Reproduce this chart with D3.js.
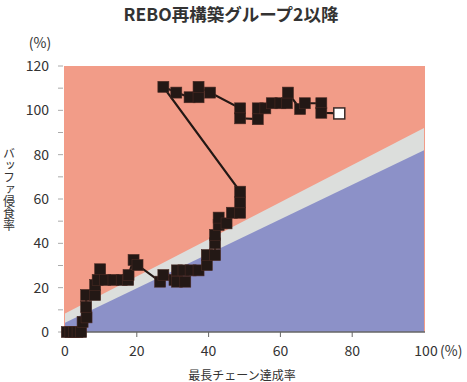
<!DOCTYPE html>
<html>
<head>
<meta charset="utf-8">
<script src="https://cdn.jsdelivr.net/npm/d3@7"></script>
<style>
  body { margin: 0; background: #fff; }
  text { font-family: "Noto Sans CJK JP", "Noto Sans", sans-serif; fill: #333; }
</style>
</head>
<body>
<div id="chart"></div>
<script>
var svgWidth = 467;
var svgHeight = 382;

// chain completion (%) vs buffer consumption (%)
var chainPct = [0.5, 1.5, 2.5, 3.5, 4.5, 4.9, 6.0, 5.9, 5.9, 8.4, 8.4, 9.1, 9.8, 11.2, 13.5, 15.8, 17.6, 17.7, 19.1, 20.2,
  26.5, 27.4, 30.5, 31.2, 33.5, 31.2, 33.0, 35.0, 37.2, 39.5, 39.5, 41.8, 41.8, 41.8, 42.8, 42.8, 45.0, 46.5, 48.8, 48.8, 48.8,
  27.4, 31.0, 34.7, 37.2, 37.2, 40.4, 48.8, 48.8, 53.7, 53.7, 55.8, 57.6, 60.0, 61.8, 62.1, 65.5, 66.8, 71.4, 71.4, 76.4];
var bufferPct = [0, 0, 0, 0, 0, 4.6, 6.6, 11.4, 16.7, 16.7, 21.2, 23.5, 28.3, 23.5, 23.5, 23.5, 23.5, 25.7, 32.5, 30.2,
  22.7, 25.7, 23.5, 22.7, 22.7, 27.8, 27.8, 27.8, 27.8, 30.2, 34.7, 34.7, 40.0, 43.8, 48.3, 51.6, 49.0, 53.8, 53.8, 58.5, 63.3,
  110.6, 108.0, 105.9, 105.9, 110.6, 108.0, 100.9, 96.4, 96.0, 100.9, 100.9, 103.2, 103.2, 103.2, 108.0, 100.6, 103.2, 103.2, 98.9, 98.6];

// zone boundaries (buffer % at chain 0 and 100)
var zoneX = [0, 100];
var greenTop = [4.2, 82];
var yellowTop = [8.4, 92];

var xTicks = [0, 20, 40, 60, 80, 100];
var yTicks = [0, 20, 40, 60, 80, 100, 120];
var yMinorTicks = [10, 30, 50, 70, 90, 110];

var svg = d3.select("#chart").append("svg")
  .attr("width", svgWidth)
  .attr("height", svgHeight);

var x = d3.scaleLinear().domain([0, 100]).range([65, 424]);
var y = d3.scaleLinear().domain([0, 120]).range([332, 66]);

// background zones
var zone = zoneX.map((d, i) => ({ x: d, g: greenTop[i], yl: yellowTop[i] }));

svg.append("rect")
  .attr("x", x(0) - 1)
  .attr("y", y(120))
  .attr("width", x(100) - x(0) + 2)
  .attr("height", y(0) - y(120))
  .attr("fill", "#f29c88");

svg.append("path")
  .datum(zone)
  .attr("fill", "#dcdedc")
  .attr("d", d3.area().x(d => x(d.x)).y0(y(0)).y1(d => y(d.yl)));

svg.append("path")
  .datum(zone)
  .attr("fill", "#8c91c8")
  .attr("d", d3.area().x(d => x(d.x)).y0(y(0)).y1(d => y(d.g)));

// y axis ticks
svg.selectAll(".ytick")
  .data(yTicks.concat(yMinorTicks))
  .enter()
  .append("line")
  .attr("x1", 58).attr("x2", 63)
  .attr("y1", d => y(d)).attr("y2", d => y(d))
  .attr("stroke", "#aaa")
  .attr("stroke-width", 1);

svg.selectAll(".ylabel")
  .data(yTicks)
  .enter()
  .append("text")
  .attr("x", 49)
  .attr("y", d => y(d) + 5)
  .attr("text-anchor", "end")
  .attr("font-size", 14)
  .text(d => d);

// x axis
svg.append("line")
  .attr("x1", x(0) - 2).attr("x2", x(100) + 1)
  .attr("y1", y(0)).attr("y2", y(0))
  .attr("stroke", "#666")
  .attr("stroke-width", 1.3);

svg.selectAll(".xtick")
  .data(xTicks.slice(1, 5))
  .enter()
  .append("line")
  .attr("x1", d => x(d)).attr("x2", d => x(d))
  .attr("y1", y(0)).attr("y2", y(0) + 5)
  .attr("stroke", "#666");

svg.selectAll(".xlabel")
  .data(xTicks)
  .enter()
  .append("text")
  .attr("x", d => x(d) + (d === 100 ? 2 : 0))
  .attr("y", 356)
  .attr("text-anchor", "middle")
  .attr("font-size", 14)
  .text(d => d);

svg.append("text")
  .attr("x", 440)
  .attr("y", 356)
  .attr("font-size", 14)
  .text("(%)");

svg.append("text")
  .attr("x", 40)
  .attr("y", 48)
  .attr("text-anchor", "middle")
  .attr("font-size", 14)
  .text("(%)");

// axis titles
svg.append("text")
  .attr("x", 242)
  .attr("y", 380)
  .attr("text-anchor", "middle")
  .attr("font-size", 12)
  .text("最長チェーン達成率");

svg.append("text")
  .attr("x", 9)
  .attr("y", 147)
  .attr("font-size", 12)
  .style("writing-mode", "vertical-rl")
  .style("text-orientation", "upright")
  .text("バッファ侵食率");

// title
svg.append("text")
  .attr("x", 231)
  .attr("y", 21)
  .attr("text-anchor", "middle")
  .attr("font-size", 17.5)
  .attr("font-weight", "bold")
  .text("REBO再構築グループ2以降");

// trace line and markers
var points = chainPct.map((d, i) => ({ x: d, y: bufferPct[i] }));

svg.append("path")
  .datum(points)
  .attr("fill", "none")
  .attr("stroke", "#231815")
  .attr("stroke-width", 2.2)
  .attr("d", d3.line().x(d => x(d.x)).y(d => y(d.y)));

var size = 11;
svg.selectAll(".marker")
  .data(points)
  .enter()
  .append("rect")
  .attr("x", d => x(d.x) - size / 2)
  .attr("y", d => y(d.y) - size / 2)
  .attr("width", size)
  .attr("height", size)
  .attr("fill", (d, i) => i === points.length - 1 ? "#fff" : "#231815")
  .attr("stroke", (d, i) => i === points.length - 1 ? "#3a2a28" : "#4a2a24")
  .attr("stroke-width", (d, i) => i === points.length - 1 ? 1.5 : 0.6);
</script>
</body>
</html>
